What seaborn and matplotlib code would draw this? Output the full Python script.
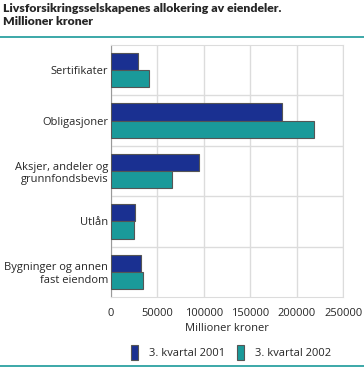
import seaborn as sns
import matplotlib.pyplot as plt
import pandas as pd
from matplotlib.ticker import FixedLocator

# categories and values (millioner kroner)
categories = ['Sertifikater', 'Obligasjoner', 'Aksjer, andeler og\ngrunnfondsbevis',
              'Utlån', 'Bygninger og annen\nfast eiendom']
periods = ['3. kvartal 2001', '3. kvartal 2002']
values_2001 = [29500, 183900, 94500, 25900, 32700]
values_2002 = [41400, 218400, 66100, 24400, 34900]

df = pd.DataFrame({
    'Kategori': categories * 2,
    'Periode': [periods[0]] * len(categories) + [periods[1]] * len(categories),
    'Verdi': values_2001 + values_2002,
})

sns.set_style('white')
plt.rcParams['font.family'] = ['Open Sans', 'DejaVu Sans']

fig = plt.figure(figsize=(3.64, 3.69), dpi=100)
ax = fig.add_axes([0.305, 0.195, 0.638, 0.683])

palette = ['#1a3091', '#1a9a9a']
sns.barplot(data=df, y='Kategori', x='Verdi', hue='Periode', order=categories,
            hue_order=periods, palette=palette, orient='h', width=0.68,
            edgecolor='#555555', linewidth=0.8, saturation=1, ax=ax, zorder=3)

ax.set_xlim(0, 250000)
ax.set_xticks([0, 50000, 100000, 150000, 200000, 250000])
ax.set_xticklabels(['0', '50000', '100000', '150000', '200000', '250000'], fontsize=8)
ax.tick_params(axis='y', labelsize=8, length=0, pad=2)
ax.tick_params(axis='x', length=0, pad=8)
ax.yaxis.set_minor_locator(FixedLocator([i + 0.5 for i in range(len(categories) - 1)]))
ax.grid(axis='x', color='#dcdcdc', linewidth=1, zorder=0)
ax.grid(axis='y', which='minor', color='#dcdcdc', linewidth=1, zorder=0)
ax.tick_params(axis='y', which='minor', length=0)
ax.set_axisbelow(True)
for s in ax.spines.values():
    s.set_color('#dcdcdc')
ax.spines['left'].set_color('#999999')
ax.set_ylabel('')
ax.set_xlabel('Millioner kroner', fontsize=8, labelpad=3)

handles, labels = ax.get_legend_handles_labels()
ax.get_legend().remove()
fig.legend(handles, labels, loc='center', bbox_to_anchor=(0.635, 0.044), ncol=2,
           frameon=False, fontsize=8, handlelength=0.65, handleheight=1.7,
           columnspacing=1.0, handletextpad=1.0)

fig.text(0.008, 0.992, 'Livsforsikringsselskapenes allokering av eiendeler.\nMillioner kroner',
         fontsize=8.8, fontweight='heavy', va='top', ha='left', linespacing=1.25,
         family=['Lato', 'DejaVu Sans'])
fig.add_artist(plt.Line2D([0, 1], [0.899, 0.899], color='#1a9a9a', linewidth=1.2))
fig.add_artist(plt.Line2D([0, 1], [0.007, 0.007], color='#1a9a9a', linewidth=1.2))

fig.savefig('out.png', dpi=100)
